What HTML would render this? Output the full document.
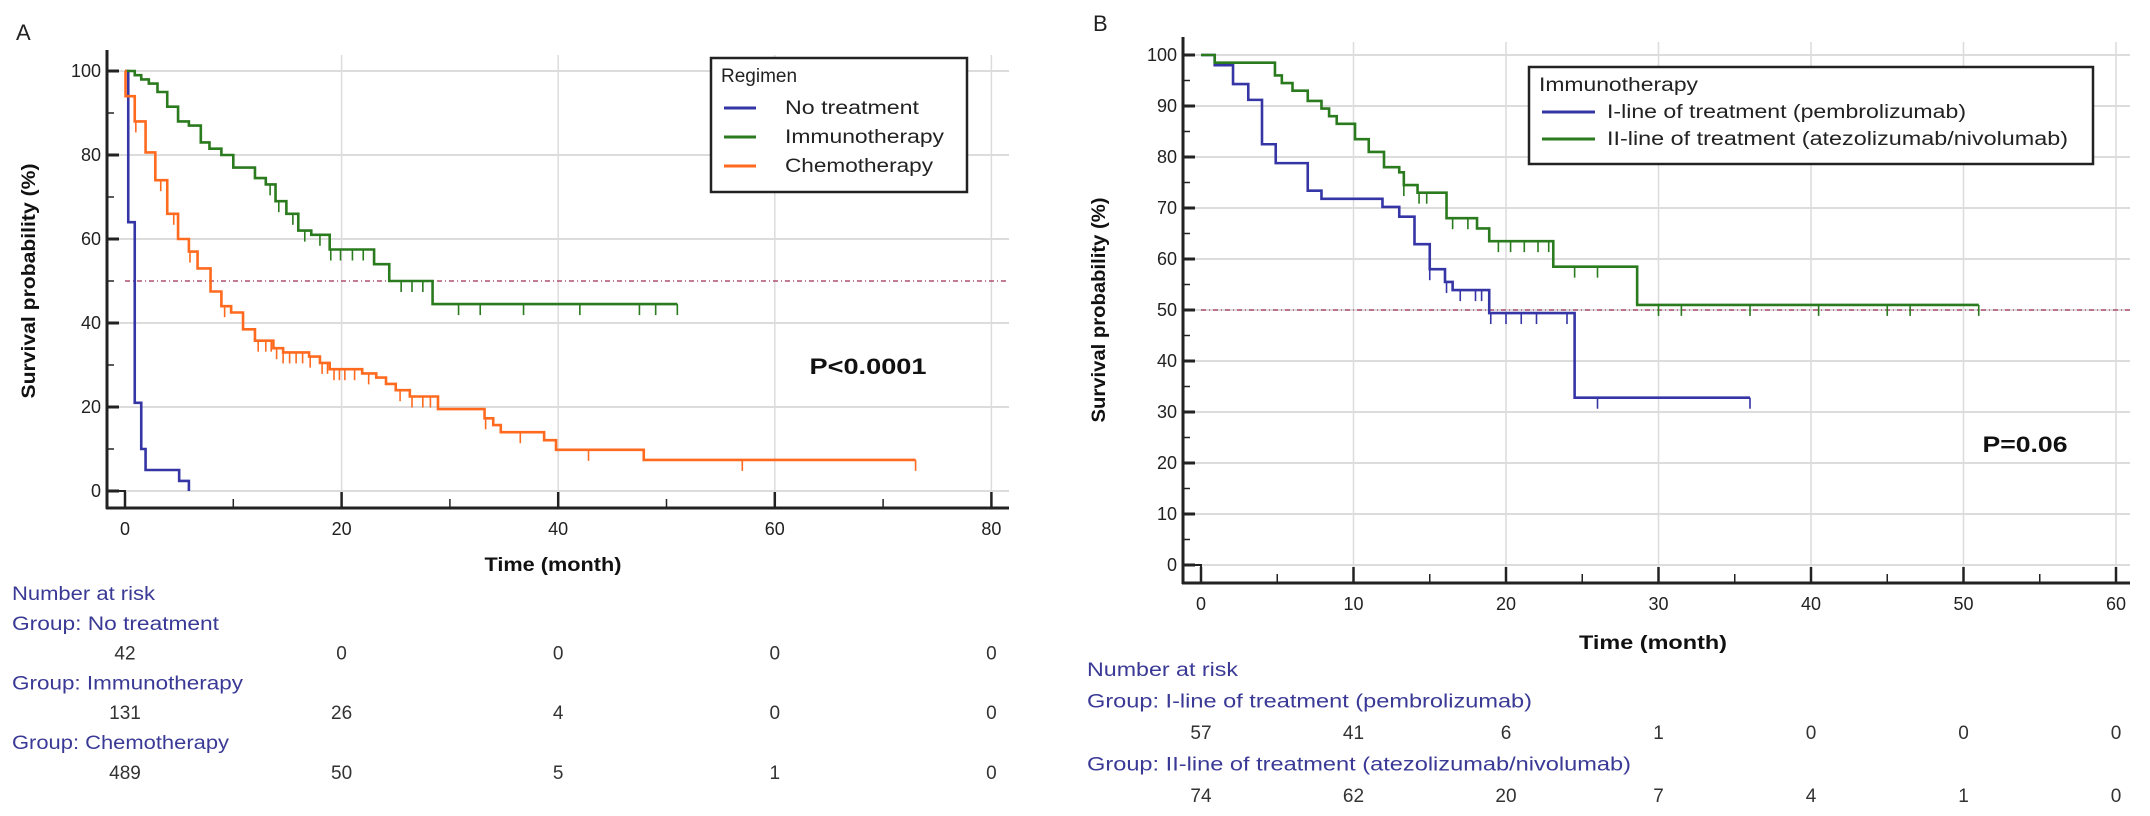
<!DOCTYPE html>
<html><head><meta charset="utf-8">
<style>
html,body{margin:0;padding:0;background:#fff;}
svg{display:block;font-family:"Liberation Sans",sans-serif;}
</style></head>
<body>
<svg id="chart" width="2150" height="816" viewBox="0 0 2150 816" xmlns="http://www.w3.org/2000/svg">
</svg>
<script>
// ---------- Panel A data ----------
const aXTicks = [0, 20, 40, 60, 80];
const aYTicks = [0, 20, 40, 60, 80, 100];
const aNoTreatTimes = [0, 0.3, 0.9, 1.5, 1.9, 5.0, 5.9];
const aNoTreatSurv  = [100, 64, 21, 10, 5, 2.4, 0];
const aNoTreatEnd = 5.9;
const aNoTreatCens = [];
const aImmunoTimes = [0, 0.9, 1.5, 2.2, 3.0, 3.9, 4.9, 5.9, 7.0, 7.8, 8.9, 10.0, 12.0, 13.0, 13.9, 14.9, 16.0, 17.2, 18.9, 23.0, 24.4, 28.4];
const aImmunoSurv  = [100, 99, 98, 97, 95, 91.5, 88, 87, 83, 81.5, 80, 77, 74.5, 73, 69, 66, 62, 61, 57.5, 54, 50, 44.5];
const aImmunoEnd = 51;
const aImmunoCens = [13.4, 14.2, 15.5, 16.6, 18, 19, 19.9, 21, 22, 25.5, 26.5, 27.5, 30.8, 32.8, 36.8, 42, 47.5, 49, 51];
const aChemoTimes = [0, 0.05, 0.9, 1.9, 2.8, 3.9, 4.9, 5.9, 6.7, 7.9, 8.9, 9.8, 10.9, 12.0, 13.7, 14.6, 17.0, 18.0, 18.9, 21.9, 23.2, 24.1, 25.0, 26.3, 28.9, 33.2, 34.0, 34.7, 38.7, 39.8, 47.9];
const aChemoSurv  = [100, 94, 88, 80.6, 74, 66, 60, 57, 53, 47.5, 44, 42.5, 38.5, 35.8, 34, 33, 32, 30.5, 29, 28, 27, 25.5, 24, 22.5, 19.5, 17.3, 15.7, 14, 12.1, 9.8, 7.4];
const aChemoEnd = 73;
const aChemoCens = [1, 3.3, 4.5, 6, 9.2, 12.3, 13, 13.5, 14, 14.6, 15.2, 15.8, 16.4, 17.1, 18.2, 18.7, 19.3, 19.8, 20.3, 21.2, 22.5, 25.4, 26.5, 27.5, 28.2, 33.3, 36.5, 42.8, 57, 73];
const aRiskTimes = [0, 20, 40, 60, 80];
const aRiskNoTreat = [42, 0, 0, 0, 0];
const aRiskImmuno = [131, 26, 4, 0, 0];
const aRiskChemo = [489, 50, 5, 1, 0];

// ---------- Panel B data ----------
const bXTicks = [0, 10, 20, 30, 40, 50, 60];
const bYTicks = [0, 10, 20, 30, 40, 50, 60, 70, 80, 90, 100];
const bFirstTimes = [0, 0.9, 2.1, 3.1, 4.0, 4.9, 7.0, 7.9, 11.9, 13.0, 14.0, 15.0, 16.0, 16.5, 18.9, 24.5];
const bFirstSurv  = [100, 98, 94.3, 91.2, 82.5, 78.8, 73.4, 71.8, 70.2, 68.3, 62.9, 58, 55.5, 53.9, 49.4, 32.8];
const bFirstEnd = 36;
const bFirstCens = [15, 16.1, 17, 18, 18.4, 19, 20, 21, 22, 24, 26, 36];
const bSecondTimes = [0, 0.9, 4.85, 5.3, 6.0, 7.0, 7.9, 8.4, 8.9, 10.1, 11.0, 12.0, 13.0, 13.3, 14.2, 16.1, 18.1, 18.9, 23.1, 28.6];
const bSecondSurv  = [100, 98.5, 96, 94.5, 93, 91, 89.5, 88, 86.5, 83.5, 81, 78, 77, 74.5, 73, 68, 66, 63.5, 58.5, 51];
const bSecondEnd = 51;
const bSecondCens = [13.3, 14.3, 14.8, 16.5, 17.5, 19.5, 20.3, 21.2, 22.1, 22.8, 24.5, 26, 30, 31.5, 36, 40.5, 45, 46.5, 51];
const bRiskTimes = [0, 10, 20, 30, 40, 50, 60];
const bRiskFirst = [57, 41, 6, 1, 0, 0, 0];
const bRiskSecond = [74, 62, 20, 7, 4, 1, 0];

const NS = "http://www.w3.org/2000/svg";
const svg = document.getElementById('chart');
function mk(tag, attrs, parent, text) {
  const e = document.createElementNS(NS, tag);
  for (const k in attrs) e.setAttribute(k, attrs[k]);
  if (text !== undefined) e.textContent = text;
  (parent || svg).appendChild(e);
  return e;
}
function fit(el, len) {
  if (len) { el.setAttribute('textLength', len); el.setAttribute('lengthAdjust', 'spacingAndGlyphs'); }
}

function drawPanel(P) {
  const g = mk('g', {});
  
  
  const sx = t => P.x0 + (t - P.xmin) * P.pxPerX;
  const sy = v => P.y0 - v * P.pxPerY;
  P.yTicks.forEach(v => {
    const l = mk('line', {x1: P.axisX, x2: P.right, y1: sy(v), y2: sy(v), stroke: '#dcdcdc', 'stroke-width': 2}, g);
    
    
  });
  P.xTicks.forEach(t => {
    if (t === P.xTicks[0]) return;
    const l = mk('line', {x1: sx(t), x2: sx(t), y1: P.top, y2: P.axisY, stroke: '#dcdcdc', 'stroke-width': 1.5}, g);
    
    
  });
  const ref = mk('line', {x1: sx(0), x2: P.right, y1: sy(50), y2: sy(50), stroke: '#b05070', 'stroke-width': 1.5, 'stroke-dasharray': '5,3,1,3'}, g);
  
  
  const ya = mk('line', {x1: P.axisX, x2: P.axisX, y1: P.top - 5, y2: P.axisY + 1, stroke: '#222', 'stroke-width': 3}, g);
  
  
  const xa = mk('line', {x1: P.axisX - 1, x2: P.right, y1: P.axisY, y2: P.axisY, stroke: '#222', 'stroke-width': 3}, g);
  
  
  mk('polyline', {points: `${P.axisX},${sy(0)} ${sx(0)},${sy(0)} ${sx(0)},${P.axisY}`, fill: 'none', stroke: '#222', 'stroke-width': 2}, g);
  P.yTicks.forEach((v, i) => {
    mk('line', {x1: P.axisX, x2: P.axisX + 12, y1: sy(v), y2: sy(v), stroke: '#222', 'stroke-width': 3}, g);
    if (i < P.yTicks.length - 1) {
      const mv = (v + P.yTicks[i + 1]) / 2;
      mk('line', {x1: P.axisX, x2: P.axisX + 7, y1: sy(mv), y2: sy(mv), stroke: '#222', 'stroke-width': 1.5}, g);
    }
    const t = mk('text', {x: P.axisX - 6, y: sy(v) + 6, 'text-anchor': 'end', 'font-size': 18, fill: '#222'}, g, String(v));
    
    
  });
  P.xTicks.forEach((t, i) => {
    mk('line', {x1: sx(t), x2: sx(t), y1: P.axisY, y2: P.axisY - 16, stroke: '#222', 'stroke-width': 2.5}, g);
    if (i < P.xTicks.length - 1) {
      const mt = (t + P.xTicks[i + 1]) / 2;
      mk('line', {x1: sx(mt), x2: sx(mt), y1: P.axisY, y2: P.axisY - 9, stroke: '#222', 'stroke-width': 1.5}, g);
    }
    const tl = mk('text', {x: sx(t), y: P.axisY + 27, 'text-anchor': 'middle', 'font-size': 18, fill: '#222'}, g, String(t));
    
    
  });
  const xt = mk('text', {x: P.xTitleX, y: P.xTitleY, 'text-anchor': 'middle', 'font-size': 19, 'font-weight': 'bold', fill: '#111'}, g, 'Time (month)');
  fit(xt, P.xTitleLen);
  
  
  const yt = mk('text', {x: 0, y: 0, 'text-anchor': 'middle', 'font-size': 19, 'font-weight': 'bold', fill: '#111', transform: `translate(${P.yTitleX},${P.yTitleY}) rotate(-90)`}, g, 'Survival probability (%)');
  fit(yt, P.yTitleLen);
  
  
  P.series.forEach(s => {
    let d = `M${sx(s.times[0])},${sy(s.surv[0])}`;
    for (let i = 1; i < s.times.length; i++) {
      d += ` H${sx(s.times[i])} V${sy(s.surv[i])}`;
    }
    d += ` H${sx(s.end)}`;
    const p = mk('path', {d: d, fill: 'none', stroke: s.color, 'stroke-width': 2.6}, g);
    
    
    const survAt = t => { let v = s.surv[0]; for (let i = 0; i < s.times.length; i++) if (s.times[i] <= t) v = s.surv[i]; return v; };
    s.cens.forEach(c => {
      const y = sy(survAt(c));
      const m = mk('line', {x1: sx(c), x2: sx(c), y1: y, y2: y + 11, stroke: s.color, 'stroke-width': 1.6}, g);
      
      
    });
  });
  let ry = P.riskTop;
  const h = mk('text', {x: P.riskLeft, y: ry, 'font-size': 19, fill: '#3a3a96'}, g, 'Number at risk');
  fit(h, P.riskHeadLen);
  
  
  P.risk.forEach(r => {
    ry += P.riskStep;
    const gl = mk('text', {x: P.riskLeft, y: ry, 'font-size': 19, fill: '#3a3a96'}, g, 'Group: ' + r.label);
    fit(gl, r.len);
    
    
    ry += P.riskStep;
    r.vals.forEach((v, i) => {
      const nt = mk('text', {x: sx(P.riskTimes[i]), y: ry, 'text-anchor': 'middle', 'font-size': 19, fill: '#333'}, g, String(v));
      
      
    });
  });
  const L = P.legend;
  const lg = mk('g', {}, g);
  
  
  mk('rect', {x: L.x, y: L.y, width: L.w, height: L.h, fill: '#fff', stroke: '#222', 'stroke-width': 2.5}, lg);
  const lt = mk('text', {x: L.x + 10, y: L.y + 24, 'font-size': 19, fill: '#222'}, lg, L.title);
  fit(lt, L.titleLen);
  P.series.forEach((s, i) => {
    const yy = L.y + L.first + i * L.step;
    const e = mk('g', {}, lg);
    
    
    mk('line', {x1: L.x + 13, x2: L.x + L.lineW, y1: yy, y2: yy, stroke: s.color, 'stroke-width': 3}, e);
    const et = mk('text', {x: L.x + L.textX, y: yy + 6, 'font-size': 19, fill: '#222'}, e, s.label);
    fit(et, s.legLen);
  });
  const pv = mk('text', {x: P.pX, y: P.pY, 'text-anchor': 'middle', 'font-size': 22, 'font-weight': 'bold', fill: '#111'}, g, P.pText);
  fit(pv, P.pLen);
  
  
  const pl = mk('text', {x: P.letterX, y: P.letterY, 'font-size': 22, fill: '#222'}, g, P.letter);
  
  
}

drawPanel({
  name: 'panel-a', letter: 'A', letterX: 16, letterY: 40,
  x0: 125, xmin: 0, pxPerX: 10.83, y0: 491, pxPerY: 4.2, ymax: 100,
  axisX: 107, axisY: 508, right: 1009, top: 55,
  xTicks: aXTicks, yTicks: aYTicks,
  xTitleX: 553, xTitleY: 571, xTitleLen: 137, yTitleX: 35, yTitleY: 281, yTitleLen: 235,
  series: [
    {key: 'no-treatment', label: 'No treatment', legLen: 134, color: '#3535a6', times: aNoTreatTimes, surv: aNoTreatSurv, end: aNoTreatEnd, cens: aNoTreatCens},
    {key: 'immunotherapy', label: 'Immunotherapy', legLen: 159, color: '#2a7a1e', times: aImmunoTimes, surv: aImmunoSurv, end: aImmunoEnd, cens: aImmunoCens},
    {key: 'chemotherapy', label: 'Chemotherapy', legLen: 148, color: '#ff6a1f', times: aChemoTimes, surv: aChemoSurv, end: aChemoEnd, cens: aChemoCens}
  ],
  riskTop: 600, riskStep: 29.8, riskLeft: 12, riskTimes: aRiskTimes, riskHeadLen: 143,
  risk: [
    {label: 'No treatment', len: 207, vals: aRiskNoTreat},
    {label: 'Immunotherapy', len: 231, vals: aRiskImmuno},
    {label: 'Chemotherapy', len: 217, vals: aRiskChemo}
  ],
  legend: {x: 711, y: 58, w: 256, h: 134, title: 'Regimen', first: 50, step: 29, lineW: 45, textX: 74},
  pText: 'P<0.0001', pLen: 117, pX: 868, pY: 374
});

drawPanel({
  name: 'panel-b', letter: 'B', letterX: 1093, letterY: 31,
  x0: 1201, xmin: 0, pxPerX: 15.25, y0: 565, pxPerY: 5.1, ymax: 100,
  axisX: 1183, axisY: 583, right: 2130, top: 42,
  xTicks: bXTicks, yTicks: bYTicks,
  xTitleX: 1653, xTitleY: 649, xTitleLen: 148, yTitleX: 1105, yTitleY: 310, yTitleLen: 225,
  series: [
    {key: 'first-line', label: 'I-line of treatment (pembrolizumab)', legLen: 359, color: '#3535a6', times: bFirstTimes, surv: bFirstSurv, end: bFirstEnd, cens: bFirstCens},
    {key: 'second-line', label: 'II-line of treatment (atezolizumab/nivolumab)', legLen: 461, color: '#2a7a1e', times: bSecondTimes, surv: bSecondSurv, end: bSecondEnd, cens: bSecondCens}
  ],
  riskTop: 676, riskStep: 31.5, riskLeft: 1087, riskTimes: bRiskTimes, riskHeadLen: 151,
  risk: [
    {label: 'I-line of treatment (pembrolizumab)', len: 445, vals: bRiskFirst},
    {label: 'II-line of treatment (atezolizumab/nivolumab)', len: 544, vals: bRiskSecond}
  ],
  legend: {x: 1529, y: 67, w: 564, h: 97, title: 'Immunotherapy', titleLen: 159, first: 45, step: 27, lineW: 66, textX: 78},
  pText: 'P=0.06', pLen: 85, pX: 2025, pY: 452
});
</script>
</body></html>
